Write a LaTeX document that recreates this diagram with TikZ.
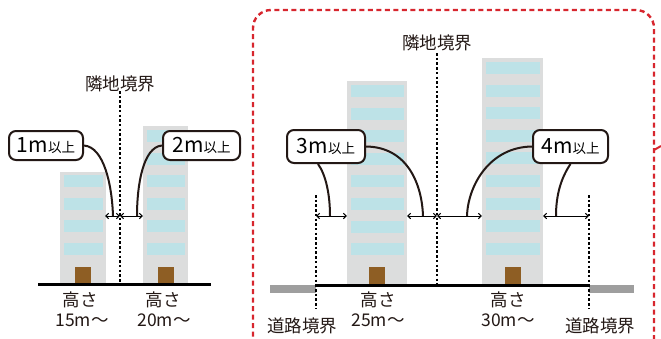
\documentclass[tikz,border=0pt]{standalone}
\usepackage{fontspec}
\setmainfont{Noto Sans CJK JP}
\usetikzlibrary{arrows.meta}
\definecolor{bldg}{HTML}{DCDDDD}
\definecolor{win}{HTML}{BDE2E7}
\definecolor{door}{HTML}{8E5E24}
\definecolor{road}{HTML}{9E9E9E}
\definecolor{frame}{HTML}{D7262E}
\definecolor{ink}{HTML}{231815}
\tikzset{
  building/.style={fill=bldg, draw=none},
  window/.style={fill=win, draw=none},
  doorbox/.style={fill=door, draw=none},
  ground/.style={line width=3pt, black},
  roadbar/.style={line width=8pt, road},
  boundary/.style={line width=2.6pt, dash pattern=on 2.5pt off 2.2pt, black},
  leader/.style={line width=2pt, ink},
  gap/.style={line width=1pt, black, {Straight Barb[length=3pt,width=5.5pt]}-{Straight Barb[length=3pt,width=5.5pt]}},
  callout/.style={draw=ink, line width=2pt, fill=white, rounded corners=7pt, inner sep=0pt},
  lbl/.style={font=\fontsize{17.5}{17.5}\selectfont, inner sep=0pt, text=ink},
  redframe/.style={line width=2.4pt, frame, dash pattern=on 5pt off 3.5pt, rounded corners=18pt}
}
% a tower: left x, right x, top y, first window y, window count, door left x
\newcommand{\drawtower}[6]{%
  \fill[building] (#1,#3) rectangle (#2,284);
  \foreach \k in {1,...,#5}{%
    \pgfmathsetmacro{\wy}{#4+(\k-1)*22.6}%
    \fill[window] ({#1+3.5},\wy) rectangle ({#2-3.5},\wy+12);
  }
  \fill[doorbox] (#6,267) rectangle ({#6+16},284);
}
\newcommand{\distnum}[1]{{\fontsize{21}{21}\selectfont #1}}
\newcommand{\ormore}{{\fontsize{13.5}{13.5}\selectfont 以上}}
\begin{document}
\begin{tikzpicture}[x=1pt,y=-1pt]
\useasboundingbox (0,0) rectangle (661,338);

% ---------- left example ----------
\drawtower{60}{106}{172}{175}{4}{75}
\drawtower{143}{188}{126}{130}{6}{158}
\draw[ground] (38,284.5) -- (211,284.5);
\coordinate (lbTop) at (120,91);
\coordinate (lbBot) at (120,284);
\draw[boundary] (lbTop) -- (lbBot);
\node[lbl] (lbName) at (120,84) {隣地境界};

\coordinate (aL) at (105,216);
\coordinate (aM) at (120,216);
\coordinate (aR) at (143,216);
\draw[gap] (aL) -- (aM);
\draw[gap] (aM) -- (aR);

\node[callout, minimum width=74pt, minimum height=29pt] (c1) at (46,145.5) {\distnum{1m}\ormore};
\node[callout, minimum width=77pt, minimum height=29pt] (c2) at (201.5,145.5) {\distnum{2m}\ormore};
\coordinate (e1) at (113,216);
\coordinate (e2) at (137,216);
\draw[leader] (c1.east) .. controls (104,147) and (112,185) .. (e1);
\draw[leader] (c2.west) .. controls (143,147) and (137,185) .. (e2);

\node[lbl] (h1) at (80,300) {高さ};
\node[lbl] (m1) at (82,320) {15m～};
\node[lbl] (h2) at (163,300) {高さ};
\node[lbl] (m2) at (164,320) {20m～};

% ---------- right example ----------
\draw[redframe] (253,345) -- (253,10) -- (654,10) -- (654,345);
\draw[line width=2pt, frame] (654,150) -- (661,146);

\drawtower{347}{407}{81}{85}{8}{369}
\drawtower{482}{543}{58}{62}{9}{505}
\draw[roadbar] (270,289) -- (316,289);
\draw[roadbar] (589,289) -- (634,289);
\draw[ground] (315,285) -- (590,285);

\coordinate (nbTop) at (437,53);
\coordinate (nbBot) at (437,285);
\draw[boundary] (nbTop) -- (nbBot);
\node[lbl] (nbName) at (437,43) {隣地境界};

\coordinate (rlTop) at (316,195);
\coordinate (rlBot) at (316,308);
\coordinate (rrTop) at (589,195);
\coordinate (rrBot) at (589,308);
\draw[boundary] (rlTop) -- (rlBot);
\draw[boundary] (rrTop) -- (rrBot);
\node[lbl] (rlName) at (302,326) {道路境界};
\node[lbl] (rrName) at (600,326) {道路境界};

\coordinate (g1) at (316,216);
\coordinate (g2) at (347,216);
\coordinate (g3) at (407,216);
\coordinate (g4) at (437,216);
\coordinate (g5) at (482,216);
\coordinate (g6) at (543,216);
\coordinate (g7) at (589,216);
\draw[gap] (g1) -- (g2);
\draw[gap] (g3) -- (g4);
\draw[gap] (g4) -- (g5);
\draw[gap] (g6) -- (g7);

\node[callout, minimum width=78pt, minimum height=33pt] (c3) at (326,146.5) {\distnum{3m}\ormore};
\node[callout, minimum width=75pt, minimum height=33pt] (c4) at (570.5,146.5) {\distnum{4m}\ormore};
\coordinate (f1) at (330,216);
\coordinate (f2) at (423,216);
\coordinate (f3) at (467,216);
\coordinate (f4) at (556,216);
\draw[leader] ([xshift=-8pt]c3.south) .. controls (326,175) and (330,195) .. (f1);
\draw[leader] (c3.east) .. controls (408,147) and (422,185) .. (f2);
\draw[leader] (c4.west) .. controls (490,147) and (468,185) .. (f3);
\draw[leader] (c4.south) .. controls (561,178) and (556,195) .. (f4);

\node[lbl] (h3) at (378,300) {高さ};
\node[lbl] (m3) at (378,320) {25m～};
\node[lbl] (h4) at (508,300) {高さ};
\node[lbl] (m4) at (508,320) {30m～};
\end{tikzpicture}
\end{document}
